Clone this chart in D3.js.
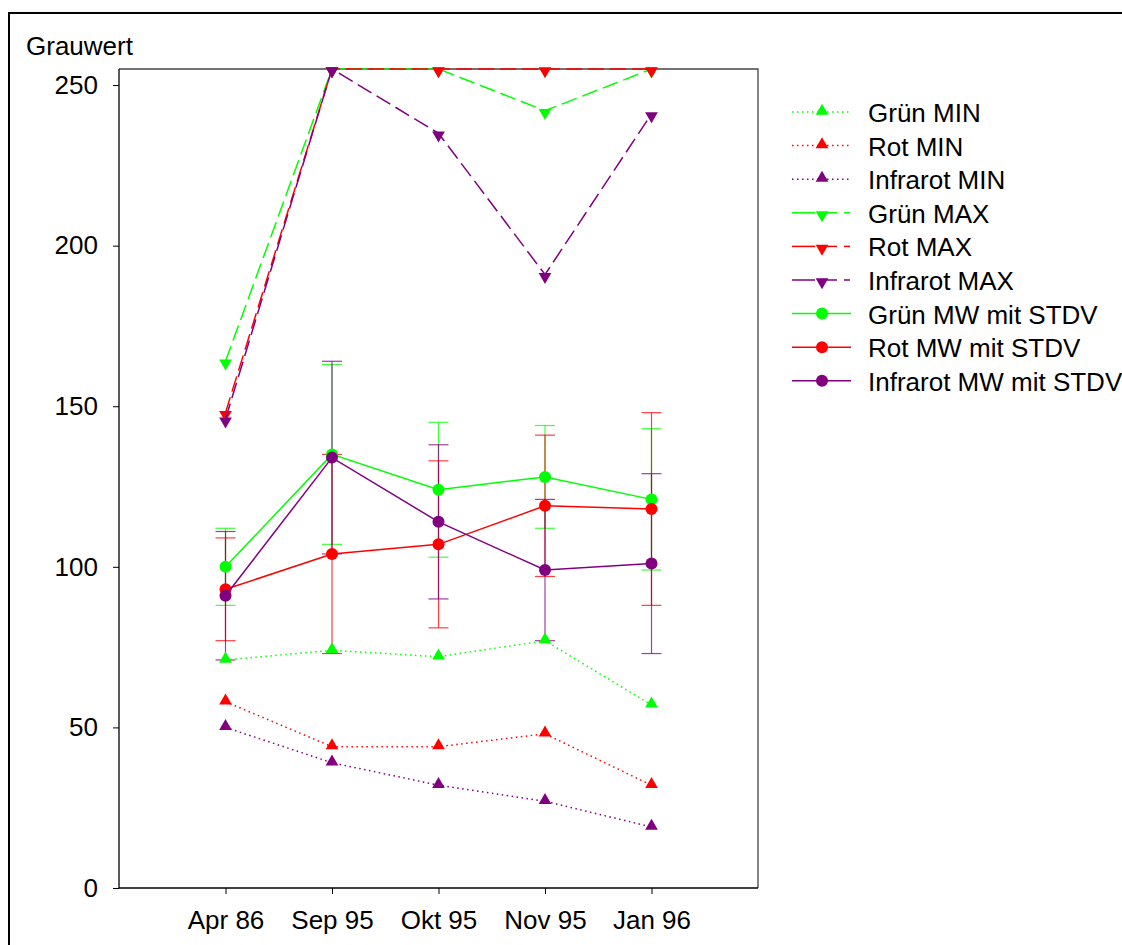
<!DOCTYPE html>
<html lang="en">
<head>
<meta charset="UTF-8">
<title>Grauwert</title>
<style>
  * { margin: 0; padding: 0; }
  html, body { overflow: hidden; background: #fff; }
  text { font-family: Arial, "Liberation Sans", sans-serif; }
</style>
</head>
<body>
<div id="chart"></div>
<script src="https://cdn.jsdelivr.net/npm/d3@7"></script>
<script>
// data
const dates = ['Apr 86', 'Sep 95', 'Okt 95', 'Nov 95', 'Jan 96']
const yTicks = [0, 50, 100, 150, 200, 250]

const gruenMin = [71, 74, 72, 77, 57]
const rotMin = [58, 44, 44, 48, 32]
const irMin = [50, 39, 32, 27, 19]

const gruenMax = [164, 255, 255, 242, 255]
const rotMax = [148, 255, 255, 255, 255]
const irMax = [146, 255, 235, 191, 241]

const gruenMw = [100, 135, 124, 128, 121]
const rotMw = [93, 104, 107, 119, 118]
const irMw = [91, 134, 114, 99, 101]

const gruenSd = [12, 28, 21, 16, 22]
const rotSd = [16, 31, 26, 22, 30]
const irSd = [20, 30, 24, 22, 28]

const GREEN = '#00ff00', RED = '#ff0000', PURPLE = '#800080'

const series = [
  { name: 'Grün MIN', values: gruenMin, color: GREEN, type: 'min' },
  { name: 'Rot MIN', values: rotMin, color: RED, type: 'min' },
  { name: 'Infrarot MIN', values: irMin, color: PURPLE, type: 'min' },
  { name: 'Grün MAX', values: gruenMax, color: GREEN, type: 'max' },
  { name: 'Rot MAX', values: rotMax, color: RED, type: 'max' },
  { name: 'Infrarot MAX', values: irMax, color: PURPLE, type: 'max' },
  { name: 'Grün MW mit STDV', values: gruenMw, sd: gruenSd, color: GREEN, type: 'mw' },
  { name: 'Rot MW mit STDV', values: rotMw, sd: rotSd, color: RED, type: 'mw' },
  { name: 'Infrarot MW mit STDV', values: irMw, sd: irSd, color: PURPLE, type: 'mw' }
]

const dashes = { min: '1.5,3.5', max: '16,6', mw: null }
const FONT = 'Arial, "Liberation Sans", sans-serif'

function drawChart() {
  const width = 1122
  const height = 945
  const svg = d3.select('#chart')
    .append('svg')
    .attr('width', width)
    .attr('height', height)

  // outer frame
  svg.append('rect')
    .attr('x', 9).attr('y', 13)
    .attr('width', 1140).attr('height', 960)
    .attr('fill', 'none')
    .attr('stroke', '#000')
    .attr('stroke-width', 2)

  const left = 119, right = 758, top = 69, bottom = 888

  const x = d3.scalePoint().domain(dates).range([left, right]).padding(1)
  const y = d3.scaleLinear().domain([0, 255]).range([bottom, top])

  // plot box
  svg.append('path')
    .attr('d', `M${left},${top}H${right}V${bottom}`)
    .attr('fill', 'none')
    .attr('stroke', '#444')
    .attr('stroke-width', 1.3)

  const yAxis = svg.append('g')
    .attr('transform', `translate(${left},0)`)
    .call(d3.axisLeft(y).tickValues(yTicks).tickSize(6).tickPadding(15))
  yAxis.attr('font-size', 26).attr('font-family', FONT)
  yAxis.selectAll('text').attr('fill', '#000')

  const xAxis = svg.append('g')
    .attr('transform', `translate(0,${bottom})`)
    .call(d3.axisBottom(x).tickSize(6).tickPadding(17))
  xAxis.attr('font-size', 26).attr('font-family', FONT)
  xAxis.selectAll('text').attr('fill', '#000')
  xAxis.select('.domain').attr('d', `M${left},0H${right}`).attr('stroke-width', 1.3)
  yAxis.select('.domain').attr('d', `M0,${bottom}V${top}`).attr('stroke-width', 1.3)

  svg.append('text')
    .attr('x', 26).attr('y', 55)
    .attr('font-size', 26)
    .text('Grauwert')

  const line = d3.line()
    .x((d, i) => x(dates[i]))
    .y(d => y(d))

  const tri = d3.symbol().type(d3.symbolTriangle).size(70)

  function marker(g, type, color, cx, cy) {
    if (type === 'mw') {
      g.append('circle').attr('cx', cx).attr('cy', cy).attr('r', 6).attr('fill', color)
    } else {
      const rot = type === 'max' ? 180 : 0
      const off = type === 'max' ? 2 : -1
      g.append('path').attr('d', tri())
        .attr('transform', `translate(${cx},${cy + off}) rotate(${rot})`)
        .attr('fill', color)
    }
  }

  // error bars first
  series.filter(s => s.type === 'mw').forEach(s => {
    const g = svg.append('g')
    s.values.forEach((v, i) => {
      const cx = x(dates[i])
      const lo = v - s.sd[i], hi = v + s.sd[i]
      g.append('line').attr('x1', cx).attr('x2', cx)
        .attr('y1', y(lo)).attr('y2', y(hi))
        .attr('stroke', s.color).attr('stroke-width', 1.2).attr('opacity', 0.75)
      ;[lo, hi].forEach(b => {
        g.append('line').attr('x1', cx - 10).attr('x2', cx + 10)
          .attr('y1', y(b)).attr('y2', y(b))
          .attr('stroke', s.color).attr('stroke-width', 1.2).attr('opacity', 0.75)
      })
    })
  })

  series.forEach(s => {
    const g = svg.append('g')
    g.append('path')
      .attr('d', line(s.values))
      .attr('fill', 'none')
      .attr('stroke', s.color)
      .attr('stroke-width', 1.5)
      .attr('stroke-dasharray', dashes[s.type])
    s.values.forEach((v, i) => marker(g, s.type, s.color, x(dates[i]), y(v)))
  })

  // legend
  const legend = svg.append('g')
  series.forEach((s, i) => {
    const ly = 112 + i * 33.6
    const g = legend.append('g')
    if (s.type === 'max') {
      g.append('line').attr('x1', 792).attr('x2', 815).attr('y1', ly).attr('y2', ly)
        .attr('stroke', s.color).attr('stroke-width', 1.5)
      g.append('line').attr('x1', 822).attr('x2', 837).attr('y1', ly).attr('y2', ly)
        .attr('stroke', s.color).attr('stroke-width', 1.5)
      g.append('line').attr('x1', 844).attr('x2', 850).attr('y1', ly).attr('y2', ly)
        .attr('stroke', s.color).attr('stroke-width', 1.5)
    } else {
      g.append('line').attr('x1', 792).attr('x2', 851).attr('y1', ly).attr('y2', ly)
        .attr('stroke', s.color).attr('stroke-width', 1.5)
        .attr('stroke-dasharray', s.type === 'min' ? '1.5,3.5' : null)
    }
    marker(g, s.type, s.color, 822, ly)
    g.append('text')
      .attr('x', 868).attr('y', ly + 10)
      .attr('font-size', 26)
      .text(s.name)
  })
}

drawChart()
</script>
</body>
</html>
